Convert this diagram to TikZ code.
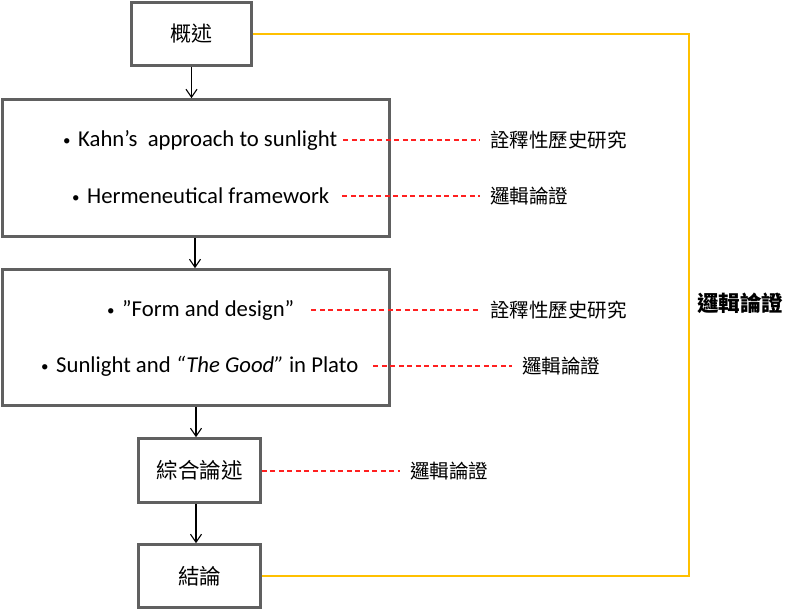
\documentclass[tikz,border=0pt]{standalone}
\usepackage{fontspec}
\setmainfont{Carlito}
\newfontfamily\cjk{Noto Sans CJK TC}
\usetikzlibrary{arrows.meta}
\definecolor{boxgray}{HTML}{606060}
\definecolor{dashred}{HTML}{FF2020}
\definecolor{linkyellow}{HTML}{FFC000}
\newcommand{\smbul}{\makebox[15pt][l]{\raisebox{1pt}{\fontsize{15}{15}\selectfont •}}}
\tikzset{
  box/.style={draw=boxgray, line width=2.6pt, inner sep=0pt, fill=white},
  txt/.style={inner sep=0pt, anchor=west, font=\fontsize{22.7}{26}\selectfont},
  lbl/.style={inner sep=0pt, anchor=west, font=\cjk\fontsize{19.5}{22}\selectfont},
  flow/.style={line width=1.1pt, -{Straight Barb[length=8pt,width=11pt,line width=1.1pt]}},
  reddash/.style={dashred, line width=1.3pt, dash pattern=on 5pt off 3.5pt},
  yline/.style={linkyellow, line width=2pt}
}
\begin{document}
\begin{tikzpicture}[x=1pt,y=-1pt]
\useasboundingbox (0,0) rectangle (800,610);
% boxes
\node[box, minimum width=120pt, minimum height=63pt, font=\cjk\fontsize{21}{24}\selectfont] (o) at (191.5,34) {概述};
\node[box, minimum width=387pt, minimum height=137pt] (b2) at (196,168) {};
\node[box, minimum width=387pt, minimum height=136pt] (b3) at (196,337.5) {};
\node[box, minimum width=122pt, minimum height=64pt, font=\cjk\fontsize{21.5}{24}\selectfont] (s) at (199.5,470.5) {綜合論述};
\node[box, minimum width=122pt, minimum height=63pt, font=\cjk\fontsize{21.5}{24}\selectfont] (c) at (199.5,576) {結論};
% texts in boxes
\node[txt] (t1) at (63,140.5) {\smbul Kahn’s\ \ approach to sunlight};
\node[txt] (t2) at (72,195.5) {\smbul Hermeneutical framework};
\node[txt] (t3) at (107,310.5) {\smbul ”Form and design”};
\node[txt] (t4) at (41,366.5) {\smbul Sunlight and \textit{“The Good”} in Plato};
% labels
\node[lbl] (l1) at (490,140) {詮釋性歷史研究};
\node[lbl] (l2) at (490,196) {邏輯論證};
\node[lbl] (l3) at (490,310) {詮釋性歷史研究};
\node[lbl] (l4) at (522,366) {邏輯論證};
\node[lbl] (l5) at (410,471) {邏輯論證};
\node[inner sep=0pt, anchor=west, font=\cjk\bfseries\fontsize{21.5}{24}\selectfont] (lr) at (697,303) {邏輯論證};
% flow arrows
\draw[flow] (o.south) -- (o.south |- b2.north);
\draw[flow] ([xshift=-1pt]b2.south) -- ([xshift=-1pt]b3.north);
\draw[flow] (b3.south) -- (b3.south |- s.north);
\draw[flow] ([xshift=-3.5pt]s.south) -- ([xshift=-3.5pt]c.north);
% dashed links
\draw[reddash] ([xshift=6pt]t1.east |- l1.west) -- ([xshift=-10pt]l1.west);
\draw[reddash] ([xshift=13pt]t2.east |- l2.west) -- ([xshift=-10pt]l2.west);
\draw[reddash] ([xshift=17pt]t3.east |- l3.west) -- ([xshift=-10pt]l3.west);
\draw[reddash] ([xshift=15pt]t4.east |- l4.west) -- ([xshift=-10pt]l4.west);
\draw[reddash] (s.east |- l5.west) -- ([xshift=-10pt]l5.west);
% yellow loop
\coordinate (yc) at (689,300);
\draw[yline] (o.east) -- (o.east -| yc) -- (c.east -| yc) -- (c.east);
\end{tikzpicture}
\end{document}
